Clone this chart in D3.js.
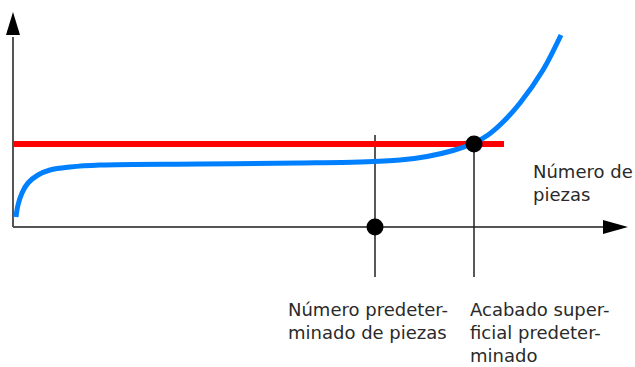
<!DOCTYPE html>
<html>
<head>
<meta charset="utf-8">
<script src="https://cdn.jsdelivr.net/npm/d3@7"></script>
<style>
  body { margin: 0; background: #fff; }
  text { font-family: "DejaVu Sans", sans-serif; font-size: 18px; fill: #2a2a2a; }
</style>
</head>
<body>
<svg id="chart"></svg>
<script>
// curve of surface finish vs number of pieces (units = px offset from origin)
const curveX = [3, 5, 9, 15, 25, 37, 57, 87, 187, 287, 347, 387, 414, 440, 461, 475, 490, 507, 530, 548];
const curveY = [10, 22, 34, 44, 52, 57, 60, 62, 63, 64, 65, 67, 70.5, 76.5, 84, 92, 105, 124, 157, 192];
const limitY = 83;
const limitEnd = 491;
const markers = [
  { x: 362, y: 0 },
  { x: 461, y: 83 }
];
const axisLabel = ["Número de", "piezas"];
const markerLabels = [
  ["Número predeter-", "minado de piezas"],
  ["Acabado super-", "ficial predeter-", "minado"]
];

const width = 635, height = 367;
const svg = d3.select("#chart").attr("width", width).attr("height", height);

const x = d3.scaleLinear().domain([0, 600]).range([13, 613]);
const y = d3.scaleLinear().domain([0, 215]).range([227, 12]);

// axes
svg.append("line")
    .attr("x1", x(0)).attr("y1", y(0))
    .attr("x2", x(0)).attr("y2", y(190))
    .attr("stroke", "#555").attr("stroke-width", 2);
svg.append("line")
    .attr("x1", x(0)).attr("y1", y(0))
    .attr("x2", x(592)).attr("y2", y(0))
    .attr("stroke", "#555").attr("stroke-width", 2);

// arrow heads
svg.append("path")
    .attr("d", `M${x(0)},${y(215)} L${x(0) - 7},${y(192)} L${x(0) + 7},${y(192)} Z`)
    .attr("fill", "#000");
svg.append("path")
    .attr("d", `M${x(615)},${y(0)} L${x(590)},${y(0) - 7} L${x(590)},${y(0) + 7} Z`)
    .attr("fill", "#000");

// vertical marker lines
svg.append("g")
    .selectAll("line")
    .data(markers)
    .join("line")
    .attr("x1", d => x(d.x)).attr("x2", d => x(d.x))
    .attr("y1", (d, i) => i === 0 ? y(92) : y(d.y))
    .attr("y2", y(-50))
    .attr("stroke", "#222").attr("stroke-width", 1.5);

// red limit line
svg.append("line")
    .attr("x1", x(0)).attr("x2", x(limitEnd))
    .attr("y1", y(limitY)).attr("y2", y(limitY))
    .attr("stroke", "#ff0000").attr("stroke-width", 6);

// blue curve
const line = d3.line()
    .x(d => x(d[0]))
    .y(d => y(d[1]))
    .curve(d3.curveCatmullRom);
svg.append("path")
    .datum(d3.zip(curveX, curveY))
    .attr("d", line)
    .attr("fill", "none")
    .attr("stroke", "#0080ff")
    .attr("stroke-width", 5)
    .attr("stroke-linecap", "butt");

// dots
svg.append("g")
    .selectAll("circle")
    .data(markers)
    .join("circle")
    .attr("cx", d => x(d.x)).attr("cy", d => y(d.y))
    .attr("r", 8.5)
    .attr("fill", "#000");

// labels
const ax = svg.append("text").attr("x", 533).attr("y", 178);
axisLabel.forEach((t, i) => ax.append("tspan").attr("x", 533).attr("dy", i ? 23 : 0).text(t));

markerLabels.forEach((lines, j) => {
  const lx = j === 0 ? 288 : 470;
  const t = svg.append("text").attr("x", lx).attr("y", 316);
  lines.forEach((s, i) => t.append("tspan").attr("x", lx).attr("dy", i ? 23 : 0).text(s));
});
</script>
</body>
</html>
